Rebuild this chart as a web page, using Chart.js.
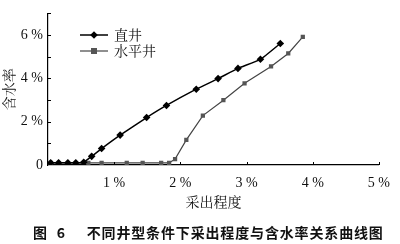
<!DOCTYPE html>
<html>
<head>
<meta charset="utf-8">
<script src="https://cdn.jsdelivr.net/npm/chart.js@4.4.0/dist/chart.umd.min.js"></script>
<style>
  html, body { margin: 0; padding: 0; background: #fff; }
  #wrap { width: 400px; height: 244px; position: relative; }
</style>
</head>
<body>
<div id="wrap"><canvas id="chart"></canvas></div>
<script>
// recovery degree (%) vs water cut (%)
const seriesNames = ['直井', '水平井'];
const verticalX = [0.04, 0.16, 0.30, 0.42, 0.54, 0.66, 0.81, 1.09, 1.49, 1.79, 2.24, 2.57, 2.87, 3.21, 3.51];
const verticalY = [0.10, 0.10, 0.10, 0.10, 0.13, 0.40, 0.76, 1.38, 2.19, 2.75, 3.50, 3.99, 4.46, 4.88, 5.61];
const horizontalX = [0.04, 0.61, 0.81, 1.19, 1.43, 1.71, 1.83, 1.92, 2.09, 2.34, 2.65, 2.97, 3.37, 3.63, 3.85];
const horizontalY = [0.10, 0.10, 0.10, 0.10, 0.10, 0.10, 0.10, 0.27, 1.16, 2.28, 2.99, 3.77, 4.55, 5.15, 5.92];
const xTicks = [1, 2, 3, 4, 5];
const yTicks = [0, 2, 4, 6];
const caption = '图 6   不同井型条件下采出程度与含水率关系曲线图';

function pts(xs, ys) { return xs.map((x, i) => ({x: x, y: ys[i]})); }

const serif = '"Liberation Serif", "DejaVu Serif", serif';
const cjkSerif = '"Noto Serif CJK SC", "Noto Sans CJK SC", serif';

// inward tick marks + legend inside the plot + caption
const extras = {
  id: 'extras',
  afterDraw(chart) {
    const ctx = chart.ctx;
    const xs = chart.scales.x, ys = chart.scales.y;
    const a = chart.chartArea;
    ctx.save();
    ctx.strokeStyle = '#000';
    ctx.lineWidth = 1;
    ctx.beginPath();
    for (let v = 1; v <= 5; v++) {
      const px = Math.round(xs.getPixelForValue(v)) + 0.5;
      ctx.moveTo(px, a.bottom); ctx.lineTo(px, a.bottom - 3);
    }
    for (let v = 1; v <= 7; v++) {
      const py = Math.round(ys.getPixelForValue(v)) + 0.5;
      ctx.moveTo(a.left, py); ctx.lineTo(a.left + 3, py);
    }
    ctx.stroke();

    // legend
    const items = chart.data.datasets;
    const rows = [35, 51];
    items.forEach((ds, i) => {
      const y = rows[i];
      ctx.strokeStyle = ds.borderColor;
      ctx.lineWidth = ds.borderWidth;
      ctx.beginPath();
      ctx.moveTo(80, y); ctx.lineTo(108, y);
      ctx.stroke();
      ctx.fillStyle = ds.pointBackgroundColor;
      ctx.beginPath();
      if (ds.pointStyle === 'rectRot') {
        const r = 3.8;
        ctx.moveTo(94, y - r); ctx.lineTo(94 + r, y); ctx.lineTo(94, y + r); ctx.lineTo(94 - r, y);
      } else {
        ctx.rect(94 - 3, y - 3, 6, 6);
      }
      ctx.closePath();
      ctx.fill();
      ctx.fillStyle = '#111';
      ctx.font = '14px ' + cjkSerif;
      ctx.textBaseline = 'middle';
      ctx.textAlign = 'left';
      ctx.fillText(ds.label, 114, y);
    });

    // caption
    ctx.fillStyle = '#111';
    ctx.font = 'bold 14px "Noto Sans CJK SC", sans-serif';
    ctx.textBaseline = 'middle';
    ctx.textAlign = 'center';
    let x = 40;
    const step = 14.85;
    for (const ch of caption) {
      if (ch !== ' ') ctx.fillText(ch, x, 233);
      x += (ch === ' ') ? 6 : step;
    }
    ctx.restore();
  }
};

new Chart(document.getElementById('chart'), {
  type: 'scatter',
  data: {
    datasets: [
      {
        label: seriesNames[0],
        data: pts(verticalX, verticalY),
        showLine: true,
        tension: 0.15,
        borderColor: '#000',
        borderWidth: 1.5,
        pointStyle: 'rectRot',
        pointRadius: 3.8,
        pointBackgroundColor: '#000',
        pointBorderColor: '#000',
        pointBorderWidth: 0
      },
      {
        label: seriesNames[1],
        data: pts(horizontalX, horizontalY),
        showLine: true,
        tension: 0,
        borderColor: '#444',
        borderWidth: 1.2,
        pointStyle: 'rect',
        pointRadius: 3,
        pointBackgroundColor: '#555',
        pointBorderColor: '#555',
        pointBorderWidth: 0
      }
    ]
  },
  options: {
    responsive: true,
    maintainAspectRatio: false,
    animation: false,
    layout: { padding: { top: 9, right: 13, bottom: 34, left: 0 } },
    plugins: {
      legend: { display: false },
      tooltip: { enabled: false }
    },
    scales: {
      x: {
        type: 'linear',
        min: 0, max: 5,
        border: { color: '#000', width: 1.2 },
        grid: { display: true, drawOnChartArea: false, drawTicks: false },
        afterBuildTicks: s => { s.ticks = xTicks.map(v => ({value: v})); },
        afterFit: s => { s.height = 45; },
        ticks: {
          color: '#111',
          padding: 10,
          font: { family: serif, size: 14 },
          callback: v => v + ' %'
        },
        title: {
          display: true,
          text: '采出程度',
          color: '#111',
          font: { family: cjkSerif, size: 14 },
          padding: { top: 3, bottom: 0 }
        }
      },
      y: {
        type: 'linear',
        min: 0, max: 7,
        border: { color: '#000', width: 1.2 },
        grid: { display: true, drawOnChartArea: false, drawTicks: false },
        afterBuildTicks: s => { s.ticks = yTicks.map(v => ({value: v})); },
        afterFit: s => { s.width = 48; },
        ticks: {
          color: '#111',
          padding: 5,
          font: { family: serif, size: 14 },
          callback: v => v === 0 ? '0' : v + ' %'
        },
        title: {
          display: true,
          text: '含水率',
          color: '#111',
          font: { family: cjkSerif, size: 14 },
          padding: { top: 0, bottom: 0 }
        }
      }
    }
  },
  plugins: [extras]
});
</script>
</body>
</html>
